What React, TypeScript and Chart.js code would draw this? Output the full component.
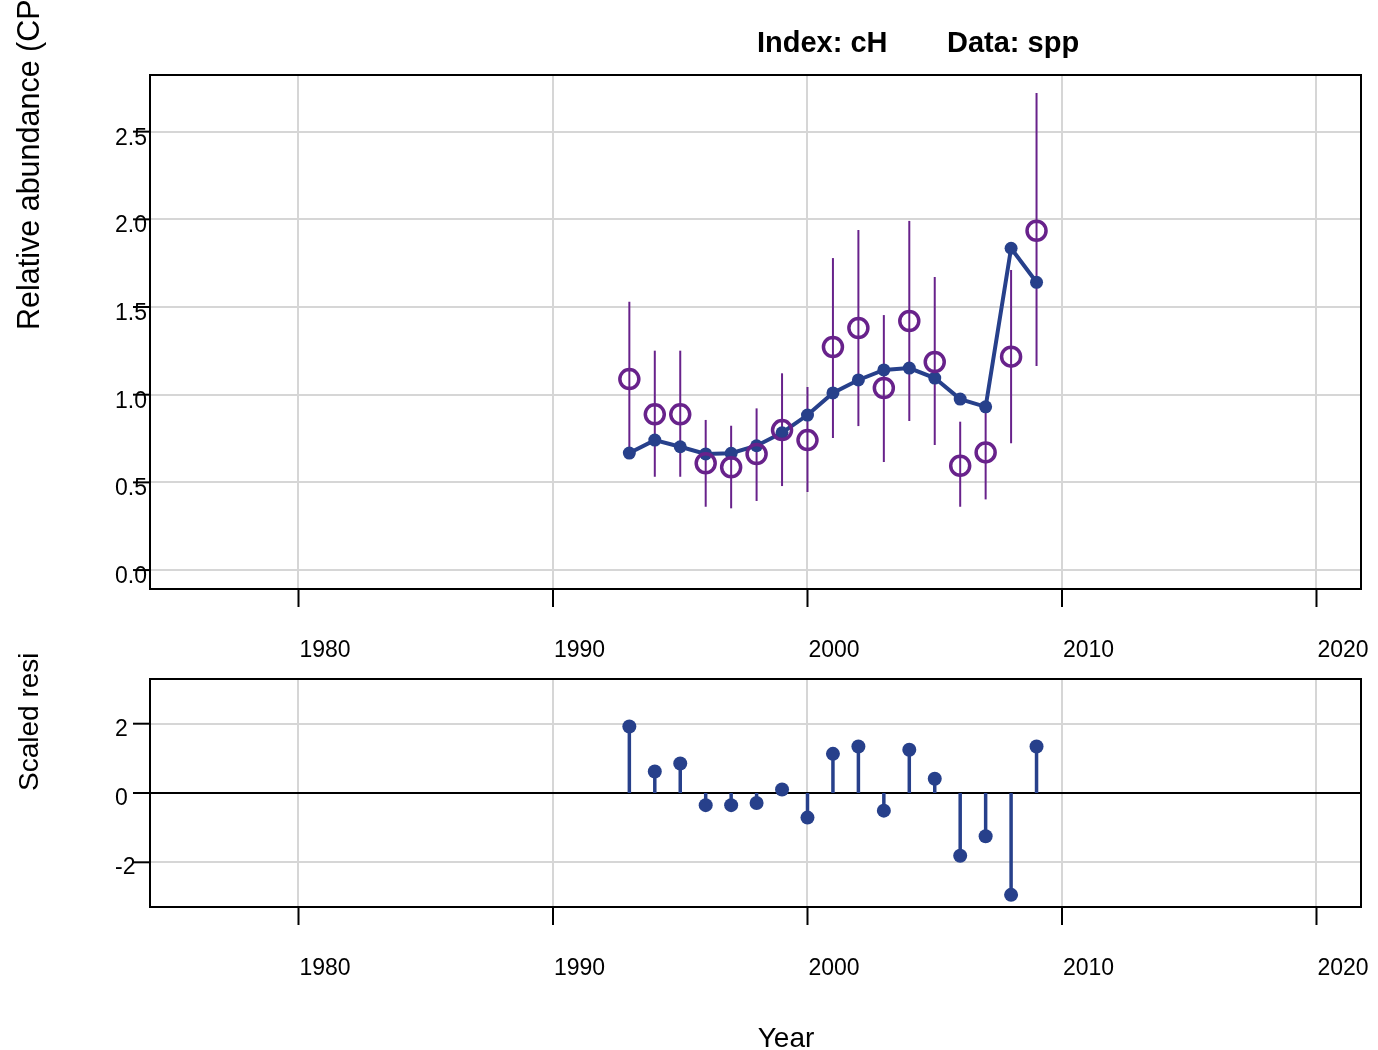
import React, { useEffect, useRef } from "react";
import { Chart, registerables } from "chart.js";

Chart.register(...registerables);

const years = [1993, 1994, 1995, 1996, 1997, 1998, 1999, 2000, 2001, 2002, 2003, 2004, 2005, 2006, 2007, 2008, 2009];
const observed = [1.089, 0.888, 0.888, 0.609, 0.586, 0.662, 0.798, 0.741, 1.272, 1.380, 1.038, 1.420, 1.186, 0.595, 0.671, 1.217, 1.935];
const fitted = [0.667, 0.741, 0.703, 0.662, 0.666, 0.709, 0.783, 0.884, 1.010, 1.084, 1.141, 1.152, 1.095, 0.975, 0.931, 1.835, 1.641];
const upper = [1.530, 1.251, 1.251, 0.856, 0.823, 0.922, 1.122, 1.044, 1.779, 1.939, 1.454, 1.991, 1.671, 0.846, 0.930, 1.711, 2.720];
const lower = [0.656, 0.532, 0.532, 0.361, 0.352, 0.394, 0.479, 0.445, 0.753, 0.821, 0.616, 0.850, 0.713, 0.361, 0.403, 0.723, 1.163];
const residuals = [1.92, 0.62, 0.85, -0.35, -0.35, -0.29, 0.10, -0.71, 1.13, 1.34, -0.51, 1.25, 0.41, -1.81, -1.25, -2.94, 1.34];

const xTicks = [1980, 1990, 2000, 2010, 2020];
const xTickLabels = ["1980", "1990", "2000", "2010", "2020"];
const yTicksTop = [0, 0.5, 1, 1.5, 2, 2.5];
const yTickLabelsTop = ["0.0", "0.5", "1.0", "1.5", "2.0", "2.5"];
const yTicksBottom = [-2, 0, 2];
const yTickLabelsBottom = ["-2", "0", "2"];

const titleLeft = "Index: cH";
const titleRight = "Data: spp";
const yTitleTop = "Relative abundance (CP";
const yTitleBottom = "Scaled resi";
const xTitle = "Year";

const BLUE = "#27408B";
const PURPLE = "#68228B";
const GRID = "#d6d6d6";
const FONT = '"Liberation Sans", Arial, Helvetica, sans-serif';

const X_MIN = 1974.165;
const X_MAX = 2021.749;

function decorPlugin(opts: {
  yTicks: number[];
  yLabels: string[];
  xLabelBaseline: number;
  yLabelOffset: number;
  drawExtras: (chart: any) => void;
  drawBefore: (chart: any) => void;
}) {
  return {
    id: "decor",
    beforeDatasetsDraw(chart: any) {
      opts.drawBefore(chart);
    },
    afterDraw(chart: any) {
      const ctx = chart.ctx;
      const a = chart.chartArea;
      const xs = chart.scales.x;
      const ys = chart.scales.y;
      ctx.save();
      ctx.strokeStyle = "#000";
      ctx.lineWidth = 2;
      ctx.strokeRect(a.left, a.top, a.right - a.left, a.bottom - a.top);
      ctx.font = `23px ${FONT}`;
      ctx.fillStyle = "#000";
      ctx.textAlign = "left";
      ctx.textBaseline = "alphabetic";
      xTicks.forEach((v, i) => {
        const px = xs.getPixelForValue(v);
        ctx.beginPath();
        ctx.moveTo(px, a.bottom);
        ctx.lineTo(px, a.bottom + 18);
        ctx.stroke();
        ctx.fillText(xTickLabels[i], px + 1, opts.xLabelBaseline);
      });
      opts.yTicks.forEach((v, i) => {
        const py = ys.getPixelForValue(v);
        ctx.fillText(opts.yLabels[i], 115, py + opts.yLabelOffset);
        ctx.beginPath();
        ctx.moveTo(133, py);
        ctx.lineTo(a.left, py);
        ctx.stroke();
      });
      opts.drawExtras(chart);
      ctx.restore();
    },
  };
}

function TopPanel() {
  const ref = useRef<HTMLCanvasElement | null>(null);
  useEffect(() => {
    if (!ref.current) return;
    const chart = new Chart(ref.current, {
      type: "scatter",
      data: {
        datasets: [
          {
            label: "fitted",
            data: years.map((y, i) => ({ x: y, y: fitted[i] })),
            showLine: true,
            borderColor: BLUE,
            backgroundColor: BLUE,
            borderWidth: 4,
            pointRadius: 6.5,
            pointBorderWidth: 0,
            pointStyle: "circle",
            order: 2,
          },
          {
            label: "observed",
            data: years.map((y, i) => ({ x: y, y: observed[i] })),
            showLine: false,
            borderColor: PURPLE,
            backgroundColor: "rgba(0,0,0,0)",
            pointRadius: 9.5,
            pointBorderWidth: 3.5,
            pointStyle: "circle",
            order: 1,
          },
        ],
      },
      options: {
        animation: false,
        responsive: false,
        maintainAspectRatio: false,
        layout: { padding: { left: 150, top: 75, right: 17, bottom: 91 } },
        plugins: { legend: { display: false }, tooltip: { enabled: false } },
        scales: {
          x: {
            type: "linear",
            min: X_MIN,
            max: X_MAX,
            afterBuildTicks: (s: any) => {
              s.ticks = xTicks.map((v) => ({ value: v }));
            },
            ticks: { display: false },
            grid: { color: GRID, lineWidth: 2, drawTicks: false },
            border: { display: false },
          },
          y: {
            type: "linear",
            min: -0.108,
            max: 2.823,
            afterBuildTicks: (s: any) => {
              s.ticks = yTicksTop.map((v) => ({ value: v }));
            },
            ticks: { display: false },
            grid: { color: GRID, lineWidth: 2, drawTicks: false },
            border: { display: false },
          },
        },
      },
      plugins: [
        decorPlugin({
          yTicks: yTicksTop,
          yLabels: yTickLabelsTop,
          xLabelBaseline: 657,
          yLabelOffset: 13,
          drawBefore: (c: any) => {
            const ctx = c.ctx;
            const xs = c.scales.x;
            const ys = c.scales.y;
            ctx.save();
            ctx.strokeStyle = PURPLE;
            ctx.lineWidth = 2;
            years.forEach((yr, i) => {
              const px = xs.getPixelForValue(yr);
              ctx.beginPath();
              ctx.moveTo(px, ys.getPixelForValue(lower[i]));
              ctx.lineTo(px, ys.getPixelForValue(upper[i]));
              ctx.stroke();
            });
            ctx.restore();
          },
          drawExtras: (c: any) => {
            const ctx = c.ctx;
            ctx.font = `bold 29px ${FONT}`;
            ctx.textAlign = "left";
            ctx.fillText(titleLeft, 757, 52);
            ctx.fillText(titleRight, 947, 52);
            ctx.font = `30.5px ${FONT}`;
            ctx.save();
            ctx.translate(39, 330);
            ctx.rotate(-Math.PI / 2);
            ctx.fillText(yTitleTop, 0, 0);
            ctx.restore();
          },
        }),
      ],
    } as any);
    return () => chart.destroy();
  }, []);
  return (
    <canvas
      ref={ref}
      width={1378}
      height={680}
      style={{ position: "absolute", left: 0, top: 0, width: 1378, height: 680 }}
    />
  );
}

function BottomPanel() {
  const ref = useRef<HTMLCanvasElement | null>(null);
  useEffect(() => {
    if (!ref.current) return;
    const chart = new Chart(ref.current, {
      type: "scatter",
      data: {
        datasets: [
          {
            label: "residuals",
            data: years.map((y, i) => ({ x: y, y: residuals[i] })),
            showLine: false,
            borderColor: BLUE,
            backgroundColor: BLUE,
            pointRadius: 7,
            pointBorderWidth: 0,
            pointStyle: "circle",
          },
        ],
      },
      options: {
        animation: false,
        responsive: false,
        maintainAspectRatio: false,
        layout: { padding: { left: 150, top: 59, right: 17, bottom: 143 } },
        plugins: { legend: { display: false }, tooltip: { enabled: false } },
        scales: {
          x: {
            type: "linear",
            min: X_MIN,
            max: X_MAX,
            afterBuildTicks: (s: any) => {
              s.ticks = xTicks.map((v) => ({ value: v }));
            },
            ticks: { display: false },
            grid: { color: GRID, lineWidth: 2, drawTicks: false },
            border: { display: false },
          },
          y: {
            type: "linear",
            min: -3.29,
            max: 3.29,
            afterBuildTicks: (s: any) => {
              s.ticks = yTicksBottom.map((v) => ({ value: v }));
            },
            ticks: { display: false },
            grid: { color: GRID, lineWidth: 2, drawTicks: false },
            border: { display: false },
          },
        },
      },
      plugins: [
        decorPlugin({
          yTicks: yTicksBottom,
          yLabels: yTickLabelsBottom,
          xLabelBaseline: 355,
          yLabelOffset: 12,
          drawBefore: (c: any) => {
            const ctx = c.ctx;
            const a = c.chartArea;
            const xs = c.scales.x;
            const ys = c.scales.y;
            const y0 = ys.getPixelForValue(0);
            ctx.save();
            ctx.strokeStyle = "#000";
            ctx.lineWidth = 2;
            ctx.beginPath();
            ctx.moveTo(a.left, y0);
            ctx.lineTo(a.right, y0);
            ctx.stroke();
            ctx.strokeStyle = BLUE;
            ctx.lineWidth = 3.5;
            years.forEach((yr, i) => {
              const px = xs.getPixelForValue(yr);
              ctx.beginPath();
              ctx.moveTo(px, y0);
              ctx.lineTo(px, ys.getPixelForValue(residuals[i]));
              ctx.stroke();
            });
            ctx.restore();
          },
          drawExtras: (c: any) => {
            const ctx = c.ctx;
            ctx.font = `28px ${FONT}`;
            ctx.textAlign = "center";
            ctx.fillText(xTitle, 786, 427);
            ctx.textAlign = "left";
            ctx.save();
            ctx.translate(38, 171);
            ctx.rotate(-Math.PI / 2);
            ctx.fillText(yTitleBottom, 0, 0);
            ctx.restore();
          },
        }),
      ],
    } as any);
    return () => chart.destroy();
  }, []);
  return (
    <canvas
      ref={ref}
      width={1378}
      height={430}
      style={{ position: "absolute", left: 0, top: 620, width: 1378, height: 430 }}
    />
  );
}

export default function App() {
  return (
    <div style={{ position: "absolute", left: 0, top: 0, width: 1378, height: 1050, background: "#fff" }}>
      <TopPanel />
      <BottomPanel />
    </div>
  );
}
